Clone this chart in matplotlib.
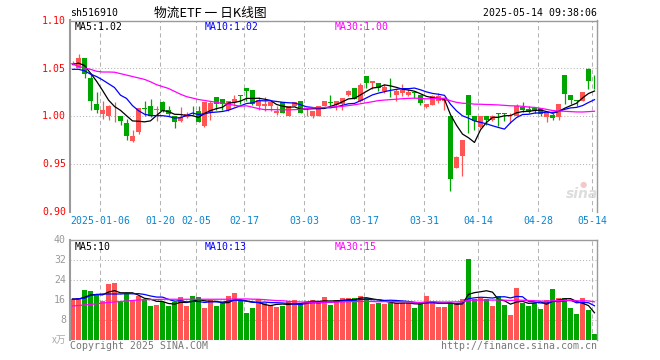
import matplotlib
matplotlib.use('Agg')
import matplotlib.pyplot as plt
import numpy as np
import pandas as pd

# ---------------- data ----------------
opens = [1.0545, 1.0507, 1.0605, 1.0395, 1.0123, 1.0028, 1.0007, 1.0102, 1.0007, 0.9934,
         0.9738, 0.9832, 1.0079, 1.0105, 1.0068, 1.0147, 1.0063, 1.0007, 0.9948, 0.9993,
         1.0053, 1.0052, 0.9895, 1.0035, 1.0199, 1.0175, 1.0070, 1.0151, 1.0218, 1.0290,
         1.0270, 1.0105, 1.0112, 1.0105, 1.0035, 1.0147, 1.0007, 1.0105, 1.0157, 1.0050,
         1.0000, 1.0007, 1.0105, 1.0140, 1.0115, 1.0123, 1.0217, 1.0290, 1.0157, 1.0419,
         1.0343, 1.0343, 1.0262, 1.0274, 1.0220, 1.0245, 1.0220, 1.0246, 1.0217, 1.0094,
         1.0115, 1.0157, 1.0157, 1.0007, 0.9459, 0.9580, 1.0217, 1.0007, 0.9885, 1.0007,
         0.9965, 1.0029, 1.0029, 1.0000, 1.0007, 1.0094, 1.0077, 1.0088, 1.0088, 0.9990,
         1.0018, 0.9993, 1.0427, 1.0217, 1.0166, 1.0157, 1.0489, 1.0368]
highs = [1.0573, 1.0647, 1.0605, 1.0455, 1.0256, 1.0157, 1.0119, 1.0147, 1.0007, 0.9973,
         0.9860, 1.0088, 1.0157, 1.0182, 1.0105, 1.0157, 1.0105, 1.0007, 1.0094, 1.0042,
         1.0105, 1.0105, 1.0147, 1.0155, 1.0199, 1.0175, 1.0160, 1.0227, 1.0218, 1.0290,
         1.0270, 1.0200, 1.0203, 1.0155, 1.0105, 1.0150, 1.0105, 1.0150, 1.0160, 1.0088,
         1.0052, 1.0112, 1.0160, 1.0217, 1.0157, 1.0193, 1.0270, 1.0290, 1.0343, 1.0420,
         1.0367, 1.0343, 1.0332, 1.0395, 1.0287, 1.0332, 1.0280, 1.0262, 1.0217, 1.0123,
         1.0227, 1.0245, 1.0193, 1.0007, 0.9580, 0.9756, 1.0217, 1.0007, 1.0007, 1.0007,
         1.0018, 1.0029, 1.0029, 1.0035, 1.0123, 1.0147, 1.0105, 1.0090, 1.0088, 1.0035,
         1.0035, 1.0133, 1.0427, 1.0217, 1.0166, 1.0256, 1.0507, 1.0427]
lows = [1.0535, 1.0507, 1.0402, 1.0070, 1.0035, 0.9976, 0.9965, 0.9937, 0.9913, 0.9756,
        0.9732, 0.9819, 1.0007, 0.9993, 0.9948, 1.0042, 1.0007, 0.9878, 0.9937, 0.9979,
        1.0018, 0.9937, 0.9885, 0.9958, 1.0070, 1.0070, 1.0060, 1.0105, 1.0123, 1.0157,
        1.0120, 1.0070, 1.0052, 1.0052, 1.0018, 1.0030, 1.0007, 1.0105, 1.0030, 1.0000,
        0.9983, 1.0007, 1.0105, 1.0105, 1.0070, 1.0070, 1.0210, 1.0175, 1.0150, 1.0297,
        1.0280, 1.0262, 1.0245, 1.0203, 1.0157, 1.0210, 1.0210, 1.0193, 1.0115, 1.0088,
        1.0115, 1.0140, 1.0070, 0.9224, 0.9455, 0.9378, 0.9826, 0.9860, 0.9878, 0.9913,
        0.9948, 0.9895, 0.9948, 0.9930, 1.0007, 1.0042, 1.0035, 1.0035, 1.0000, 0.9937,
        0.9965, 0.9965, 1.0130, 1.0123, 1.0112, 1.0157, 1.0280, 1.0280]
closes = [1.0552, 1.0612, 1.0444, 1.0157, 1.0070, 1.0070, 1.0105, 1.0108, 0.9955, 0.9790,
          0.9798, 1.0088, 1.0076, 1.0007, 1.0072, 1.0060, 1.0028, 0.9937, 0.9993, 1.0021,
          1.0051, 0.9937, 1.0147, 1.0140, 1.0123, 1.0123, 1.0157, 1.0175, 1.0215, 1.0262,
          1.0123, 1.0165, 1.0125, 1.0151, 1.0052, 1.0035, 1.0105, 1.0147, 1.0035, 1.0052,
          1.0052, 1.0112, 1.0157, 1.0138, 1.0157, 1.0193, 1.0262, 1.0182, 1.0322, 1.0343,
          1.0367, 1.0297, 1.0308, 1.0272, 1.0262, 1.0272, 1.0256, 1.0245, 1.0140, 1.0123,
          1.0210, 1.0210, 1.0193, 0.9344, 0.9574, 0.9748, 1.0018, 0.9948, 1.0000, 0.9965,
          1.0007, 1.0027, 1.0027, 1.0007, 1.0112, 1.0070, 1.0042, 1.0070, 1.0028, 1.0035,
          0.9983, 1.0133, 1.0235, 1.0165, 1.0164, 1.0256, 1.0367, 1.0366]
volumes = [16.5, 16.7, 20.0, 19.6, 18.3, 15.6, 22.4, 22.8, 15.3, 18.3,
           15.6, 17.7, 16.5, 13.6, 14.0, 15.3, 13.6, 15.3, 17.2, 13.6,
           17.6, 17.2, 12.8, 16.1, 13.6, 14.7, 17.6, 18.8, 16.1, 10.8,
           12.9, 16.4, 14.8, 13.9, 13.2, 13.6, 15.6, 16.1, 14.3, 15.5,
           16.1, 15.1, 17.2, 14.1, 16.0, 16.7, 16.8, 16.7, 17.6, 16.7,
           14.4, 14.9, 14.4, 14.9, 14.9, 14.9, 14.9, 12.8, 14.5, 17.6,
           15.6, 13.2, 13.2, 14.9, 14.5, 16.4, 32.4, 16.5, 16.7, 16.5,
           13.6, 17.6, 14.0, 10.0, 20.8, 14.9, 13.6, 14.7, 12.4, 16.0,
           20.4, 16.8, 16.8, 12.8, 10.4, 16.8, 12.0, 2.4]

# moving-average values at the start of the window (earlier days not shown)
ma5_head = [1.054, 1.0555, 1.053, 1.045]
ma10_head = [1.049, 1.049, 1.0475, 1.044, 1.0415, 1.038, 1.034, 1.030, 1.022]
ma30_head = [1.0545, 1.052, 1.0505, 1.049, 1.047, 1.0462, 1.0462, 1.046, 1.0445, 1.043,
             1.0415, 1.040, 1.0385, 1.036, 1.033, 1.031, 1.029, 1.026, 1.023, 1.0205,
             1.019, 1.0175, 1.0165, 1.0155, 1.0145, 1.0135, 1.0125, 1.0115, 1.0105]
vma5_head = [16.4, 16.4, 17.1, 18.0]
vma10_head = [16.3, 16.5, 16.7, 17.8, 18.2, 18.4, 18.4, 18.4, 18.4]
vma30_head = [13.6, 13.8, 14.0, 14.2, 14.5, 14.8, 15.0, 15.2, 15.4, 15.6,
              15.8, 16.0, 16.1, 16.2, 16.2, 16.3, 16.3, 16.3, 16.3, 16.3,
              16.3, 16.3, 16.3, 16.3, 16.3, 16.3, 16.3, 16.4, 16.4]

tick_idx = [5, 15, 21, 29, 39, 49, 59, 68, 78, 87]
tick_labels = ['2025-01-06', '01-20', '02-05', '02-17', '03-03', '03-17',
               '03-31', '04-14', '04-28', '05-14']
price_ticks = [1.10, 1.05, 1.00, 0.95, 0.90]
vol_ticks = [40, 32, 24, 16, 8]

code = 'sh516910'
title = '物流ETF 一 日K线图'
stamp = '2025-05-14 09:38:06'
ma_price_labels = ['MA5:1.02', 'MA10:1.02', 'MA30:1.00']
ma_vol_labels = ['MA5:10', 'MA10:13', 'MA30:15']

# ---------------- helpers ----------------
def ma(vals, n, head):
    s = pd.Series(vals).rolling(n).mean().to_numpy()
    s[:len(head)] = head
    return s

RED = '#ff5555'
GREEN = '#00a600'
MA_COLORS = ['#000000', '#0000ff', '#ff00ff']
GRID = '#b4b4b4'
BORDER = '#9a9a9a'
MONO = 'DejaVu Sans Mono'
CJK = ['Noto Sans CJK SC', 'DejaVu Sans']

W, H = 660, 360
fig = plt.figure(figsize=(W / 100, H / 100), dpi=100)
fig.patch.set_facecolor('white')

def rect(x0, y0, x1, y1):
    return [x0 / W, 1 - y1 / H, (x1 - x0) / W, (y1 - y0) / H]

def ftext(x, y, s, **kw):
    fig.text(x / W, 1 - y / H, s, **kw)

ax = fig.add_axes(rect(70, 20.5, 597, 212))
axv = fig.add_axes(rect(70, 240, 597, 340))

n = len(closes)
x = np.arange(n)
o = np.array(opens); c = np.array(closes); h = np.array(highs); l = np.array(lows)
v = np.array(volumes)
cols = [RED if ci >= oi else GREEN for oi, ci in zip(o, c)]
bw = 5 / 6
xlo, xhi = -2.5 / 6, 87 + 2.5 / 6

for a in (ax, axv):
    a.set_xlim(xlo, xhi)
    a.set_xticks([]); a.set_yticks([])
    for side in ('left', 'top', 'right'):
        a.spines[side].set_color(BORDER)
    a.spines['bottom'].set_visible(False)
    a.spines['left'].set_linewidth(1.5)
    a.spines['top'].set_linewidth(1.0)
    a.spines['right'].set_linewidth(1.0)
    for t in tick_idx:
        a.axvline(t - 2.5 / 6, color=GRID, lw=0.75, ls=(0, (4, 3)), zorder=0)

# ---- price panel ----
ax.set_ylim(0.90, 1.10)
for p in price_ticks[1:-1]:
    ax.axhline(p, color=GRID, lw=0.75, ls=(0, (1, 2)), zorder=0)

ax.vlines(x, l, h, colors=cols, lw=0.9, zorder=2)
body_b = np.minimum(o, c)
body_h = np.maximum(np.abs(c - o), 0.0006)
ax.bar(x, body_h, bw, bottom=body_b, color=cols, edgecolor=cols, lw=0, zorder=3)

for n_, head, col in zip((5, 10, 30), (ma5_head, ma10_head, ma30_head), MA_COLORS):
    ax.plot(x, ma(closes, n_, head), color=col, lw=0.9, zorder=4)

# ---- volume panel ----
axv.set_ylim(0, 40)
for t in vol_ticks[1:]:
    axv.axhline(t, color=GRID, lw=0.75, ls=(0, (1, 2)), zorder=0)
axv.bar(x, v, bw, color=cols, lw=0, zorder=2)
for n_, head, col in zip((5, 10, 30), (vma5_head, vma10_head, vma30_head), MA_COLORS):
    axv.plot(x, ma(volumes, n_, head), color=col, lw=0.9, zorder=4)

# ---- texts ----
fs = 7.1
ftext(70, 13, code, family=MONO, fontsize=fs, va='center', ha='left')
ftext(210, 13, title, family=CJK, fontsize=9.2, va='center', ha='center')
ftext(597, 13, stamp, family=MONO, fontsize=fs, va='center', ha='right')

for p in price_ticks:
    yy = 20.7 + (1.10 - p) / 0.20 * (212 - 20.7)
    ftext(66, yy, f'{p:.2f}', family=MONO, fontsize=fs, va='center', ha='right', color='#ff0000')
for t in vol_ticks:
    yy = 340 - t / 40 * 100
    ftext(66, yy, str(t), family=MONO, fontsize=fs, va='center', ha='right', color='#999999')
ftext(66, 340, 'x万', family=CJK, fontsize=7, va='center', ha='right', color='#aaaaaa')

for xs, s, col in zip((75, 205, 335), ma_price_labels, MA_COLORS):
    ftext(xs, 26.5, s, family=MONO, fontsize=fs, va='center', ha='left', color=col)
for xs, s, col in zip((75, 205, 335), ma_vol_labels, MA_COLORS):
    ftext(xs, 246.5, s, family=MONO, fontsize=fs, va='center', ha='left', color=col)

for t, lab in zip(tick_idx, tick_labels):
    px = 70 + 6 * t
    ftext(px, 221, lab, family=MONO, fontsize=fs, va='center', ha='center', color='#0a84d0')

ftext(70, 346, 'Copyright 2025 SINA.COM', family=MONO, fontsize=fs, va='center', ha='left', color='#777777')
ftext(597, 346, 'http://finance.sina.com.cn', family=MONO, fontsize=fs, va='center', ha='right', color='#777777')

# faint sina watermark
ftext(582, 194, 'sina', family='DejaVu Sans', fontsize=10, fontweight='bold', style='italic',
      va='center', ha='center', color='#dddddd')
ftext(583, 184, '●', family='DejaVu Sans', fontsize=6, va='center', ha='center', color='#f4c8c8')

fig.savefig('out.png', dpi=100, facecolor='white')
